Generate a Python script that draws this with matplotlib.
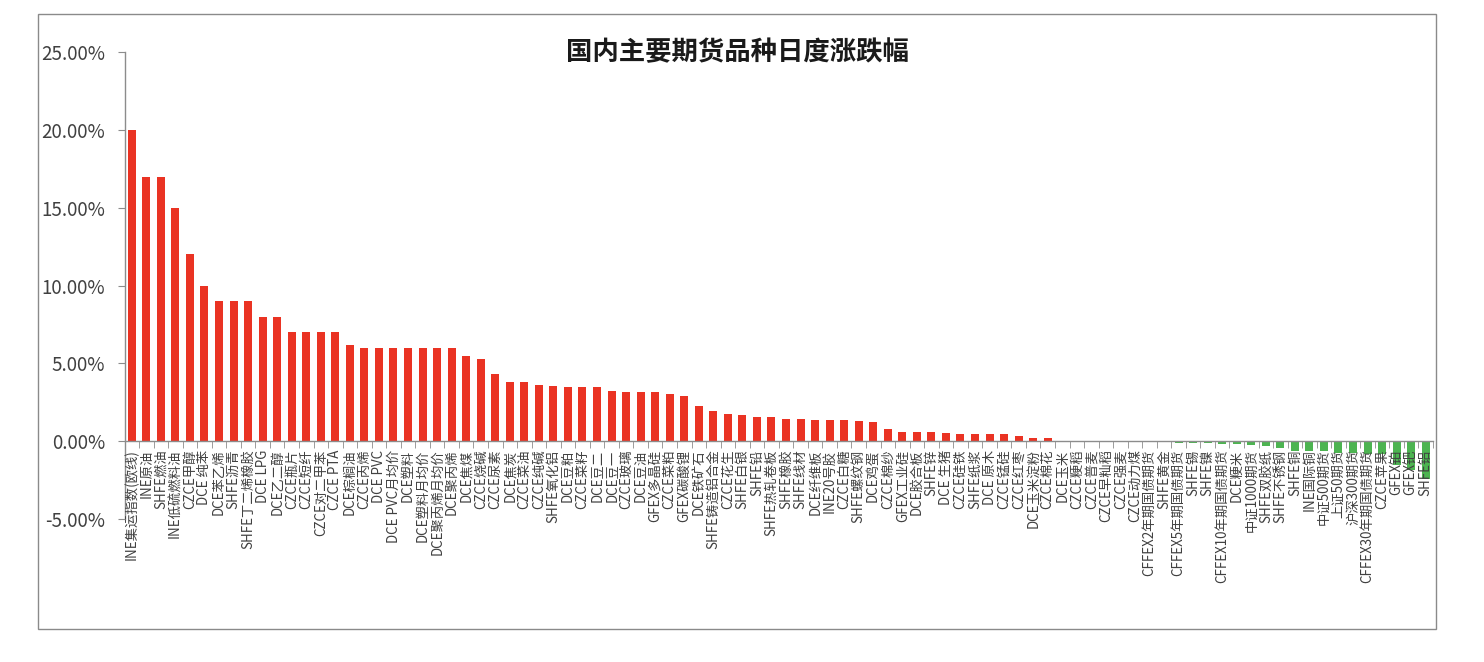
import matplotlib
matplotlib.use("Agg")
import matplotlib.pyplot as plt
from matplotlib.ticker import FixedLocator, FuncFormatter
from matplotlib.patches import Rectangle

plt.rcParams['font.family'] = ['Noto Sans CJK SC', 'DejaVu Sans']

categories = [
    "INE集运指数(欧线)", "INE原油", "SHFE燃油", "INE低硫燃料油", "CZCE甲醇",
    "DCE 纯苯", "DCE苯乙烯", "SHFE沥青", "SHFE丁二烯橡胶", "DCE LPG",
    "DCE乙二醇", "CZCE瓶片", "CZCE短纤", "CZCE对二甲苯", "CZCE PTA",
    "DCE棕榈油", "CZCE丙烯", "DCE PVC", "DCE PVC月均价", "DCE塑料",
    "DCE塑料月均价", "DCE聚丙烯月均价", "DCE聚丙烯", "DCE焦煤", "CZCE烧碱",
    "CZCE尿素", "DCE焦炭", "CZCE菜油", "CZCE纯碱", "SHFE氧化铝",
    "DCE豆粕", "CZCE菜籽", "DCE豆二", "DCE豆一", "CZCE玻璃",
    "DCE豆油", "GFEX多晶硅", "CZCE菜粕", "GFEX碳酸锂", "DCE铁矿石",
    "SHFE铸造铝合金", "CZCE花生", "SHFE白银", "SHFE铅", "SHFE热轧卷板",
    "SHFE橡胶", "SHFE线材", "DCE纤维板", "INE20号胶", "CZCE白糖",
    "SHFE螺纹钢", "DCE鸡蛋", "CZCE棉纱", "GFEX工业硅", "DCE胶合板",
    "SHFE锌", "DCE 生猪", "CZCE硅铁", "SHFE纸浆", "DCE 原木",
    "CZCE锰硅", "CZCE红枣", "DCE玉米淀粉", "CZCE棉花", "DCE玉米",
    "CZCE粳稻", "CZCE普麦", "CZCE早籼稻", "CZCE强麦", "CZCE动力煤",
    "CFFEX2年期国债期货", "SHFE黄金", "CFFEX5年期国债期货", "SHFE锡", "SHFE镍",
    "CFFEX10年期国债期货", "DCE粳米", "中证1000期货", "SHFE双胶纸", "SHFE不锈钢",
    "SHFE铜", "INE国际铜", "中证500期货", "上证50期货", "沪深300期货",
    "CFFEX30年期国债期货", "CZCE苹果", "GFEX铂", "GFEX钯", "SHFE铝",
]

changes_pct = [
    20.0, 17.0, 17.0, 15.0, 12.0,
    10.0, 9.0, 9.0, 9.0, 8.0,
    7.95, 7.0, 7.0, 7.0, 7.0,
    6.2, 6.0, 6.0, 6.0, 6.0,
    6.0, 6.0, 6.0, 5.5, 5.27,
    4.3, 3.78, 3.78, 3.6, 3.52,
    3.46, 3.46, 3.46, 3.25, 3.14,
    3.14, 3.14, 3.03, 2.88, 2.26,
    1.95, 1.75, 1.7, 1.57, 1.57,
    1.4, 1.4, 1.36, 1.36, 1.36,
    1.3, 1.2, 0.75, 0.62, 0.62,
    0.6, 0.52, 0.48, 0.46, 0.46,
    0.44, 0.3, 0.2, 0.2, 0.0,
    0.0, 0.0, 0.0, 0.0, 0.0,
    0.0, 0.0, -0.1, -0.12, -0.12,
    -0.15, -0.2, -0.25, -0.3, -0.45,
    -0.65, -0.65, -0.65, -0.75, -0.75,
    -0.85, -0.85, -1.5, -1.85, -2.4,
]

y_ticks = [-5, 0, 5, 10, 15, 20, 25]
title = "国内主要期货品种日度涨跌幅"

RED = "#EA3323"
GREEN = "#4DB451"
AXIS_GRAY = "#8C8C8C"
TEXT_GRAY = "#404040"

W, H = 1484, 662
fig = plt.figure(figsize=(W / 100, H / 100), dpi=100)
fig.patch.set_facecolor("white")

# outer chart border
fig.patches.append(Rectangle((38 / W, 1 - 629 / H), (1436 - 38) / W, (629 - 14) / H,
                             transform=fig.transFigure, fill=False,
                             edgecolor="#8A8A8A", linewidth=1.0))

ax_left, ax_right = 124.5, 1433
ax_top, ax_bottom = 52, 519
ax = fig.add_axes([ax_left / W, 1 - ax_bottom / H, (ax_right - ax_left) / W, (ax_bottom - ax_top) / H])

x = list(range(len(categories)))
colors = [RED if v >= 0 else GREEN for v in changes_pct]
ax.bar(x, changes_pct, width=0.55, color=colors, zorder=1)

ax.set_xlim(-0.5, len(categories) - 0.5)
ax.set_ylim(-5, 25)
ax.set_axisbelow(False)

for s in ["top", "right"]:
    ax.spines[s].set_visible(False)
ax.spines["left"].set_color(AXIS_GRAY)
ax.spines["bottom"].set_color(AXIS_GRAY)
ax.spines["bottom"].set_position(("data", 0))
ax.spines["left"].set_linewidth(1.0)
ax.spines["bottom"].set_linewidth(1.0)

ax.set_yticks(y_ticks)
ax.yaxis.set_major_formatter(FuncFormatter(lambda v, p: f"{v:.2f}%"))
ax.tick_params(axis="y", direction="out", length=5, color=AXIS_GRAY,
               labelsize=13.5, labelcolor=TEXT_GRAY, pad=9)

ax.set_xticks(x)
ax.set_xticklabels(categories, rotation=90, fontsize=9.6, color=TEXT_GRAY)
ax.tick_params(axis="x", which="major", length=0, pad=6)
ax.xaxis.set_minor_locator(FixedLocator([i - 0.5 for i in range(len(categories) + 1)]))
ax.tick_params(axis="x", which="minor", direction="out", length=5, color=AXIS_GRAY)
for lbl in ax.get_xticklabels():
    lbl.set_zorder(5)

fig.text(737 / W, 1 - 53 / H, title, ha="center", va="center",
         fontsize=19, fontweight="bold", color="#1a1a1a")

fig.savefig("out.png", dpi=100, facecolor="white")
